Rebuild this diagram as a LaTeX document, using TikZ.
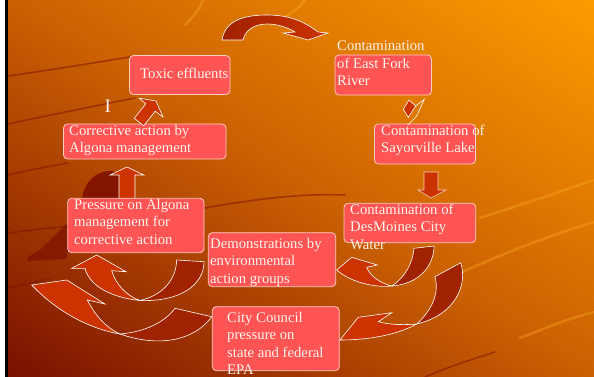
\documentclass[tikz,border=0pt]{standalone}
\usepackage{fontspec}
\setmainfont{Liberation Serif}
\definecolor{bgtr}{RGB}{252,156,0}
\definecolor{bgmid}{RGB}{202,96,2}
\definecolor{bgbl}{RGB}{122,16,0}
\definecolor{boxfill}{RGB}{255,84,84}
\definecolor{boxedge}{RGB}{255,205,195}
\definecolor{txt}{RGB}{255,243,235}
\definecolor{arrl}{RGB}{204,51,0}
\definecolor{arrd}{RGB}{160,34,0}
\definecolor{silh}{RGB}{120,10,0}
\definecolor{streakd}{RGB}{125,22,0}
\definecolor{streakl}{RGB}{255,175,40}
\begin{document}
\begin{tikzpicture}[x=1pt,y=-1pt,
  box/.style={draw=boxedge, line width=0.8pt, fill=boxfill, rounded corners=4pt, inner sep=0pt},
  lbl/.style={anchor=north west, inner sep=0pt, align=left, text=txt,
    font=\fontsize{14.7}{17.6}\selectfont, execute at begin node=\strut},
  blk/.style={fill=arrl, draw=white, line width=0.6pt},
  blkd/.style={fill=arrd, draw=white, line width=0.6pt},
  dst/.style={draw=streakd, line width=1.6pt, opacity=0.55, line cap=round},
  lst/.style={draw=streakl, line width=2.6pt, opacity=0.35, line cap=round}]
\useasboundingbox (0,0) rectangle (594,377);
% background
\fill[white] (0,0) rectangle (5,377);
\begin{scope}
\clip (8,0) rectangle (594,377);
\foreach \k in {0,...,79}{
  \pgfmathsetmacro{\a}{\k/40}
  \pgfmathsetmacro{\b}{(\k+1.4)/40}
  \pgfmathsetmacro{\uc}{(\k+0.5)/40}
  \ifnum\k<40
    \pgfmathsetmacro{\p}{\uc*100}\colorlet{sc}{bgmid!\p!bgbl}
  \else
    \pgfmathsetmacro{\p}{(\uc-1)*100}\colorlet{sc}{bgtr!\p!bgmid}
  \fi
  \fill[sc] ({8+586*(\a-2)},-377) -- ({8+586*(\a+1)},754) -- ({8+586*(\b+1)},754) -- ({8+586*(\b-2)},-377) -- cycle;
}
\end{scope}
\fill[black] (5,0) rectangle (8,377);
% streaks
\draw[dst] (8,76) .. controls (50,70) and (100,62) .. (135,56);
\draw[dst] (8,124) .. controls (50,115) and (100,105) .. (135,98);
\draw[dst] (8,175) .. controls (30,170) and (50,166) .. (68,163);
\draw[dst] (8,233) .. controls (30,230) and (50,228) .. (70,226);
\draw[dst] (8,288) .. controls (25,284) and (40,281) .. (50,279);
\draw[dst] (205,208) .. controls (250,200) and (300,193) .. (345,195);
\draw[dst] (425,377) .. controls (445,368) and (470,360) .. (495,352);
\draw[lst] (455,275) .. controls (500,255) and (550,235) .. (594,222);
\draw[lst] (520,338) .. controls (545,328) and (570,318) .. (594,312);
\draw[lst] (480,218) .. controls (520,205) and (560,192) .. (594,180);
\draw[lst] (185,25) .. controls (195,15) and (200,8) .. (203,0);
\draw[lst] (275,22) .. controls (290,15) and (300,8) .. (305,0);
% silhouette
\fill[silh, opacity=0.8] (82,199) .. controls (84,182) and (96,171) .. (110,171) .. controls (115,171) and (118,173) .. (120,175) -- (120,199) -- cycle;
\fill[silh, opacity=0.6] (68,222) -- (50,240) -- (40,250) -- (28,257) -- (27,261) -- (66,259) -- (68,250) -- cycle;
% up arrow behind boxes
\draw[blk] (119,199) -- (119,175) -- (110,175) -- (127,167) -- (144,175) -- (135,175) -- (135,199) -- cycle;
% boxes
\node[box, minimum width=100.5pt, minimum height=39pt] (toxic) at (179.75,75) {};
\node[box, minimum width=162.5pt, minimum height=35pt] (corr) at (144.75,141.5) {};
\node[box, minimum width=96.5pt, minimum height=40pt] (east) at (383.25,75) {};
\node[box, minimum width=101pt, minimum height=40pt] (sayor) at (425,144) {};
\node[box, minimum width=136.3pt, minimum height=54.4pt] (press) at (135.85,225.5) {};
\node[box, minimum width=127.4pt, minimum height=54pt] (demo) at (272,259.7) {};
\node[box, minimum width=127pt, minimum height=64pt] (city) at (275.8,338.7) {};
\node[box, minimum width=131.7pt, minimum height=39.4pt] (desm) at (409.85,223) {};
% top curved arrow
\shadedraw[left color=arrd, right color=arrl, draw=white, line width=0.6pt]
  (222,40) .. controls (225,20) and (245,15) .. (267,15) .. controls (290,15) and (305,22) .. (318,32)
  -- (328,33) -- (308,40) -- (283,33) -- (295,32) .. controls (285,26) and (275,24) .. (267,24)
  .. controls (255,24) and (245,30) .. (243,40) -- cycle;
% corrective -> toxic
\draw[blk] (134.3,118.3) -- (145.8,103.8) -- (139.3,98.2) -- (156,101) -- (163,117) -- (155.2,111.2) -- (143.7,125.7) -- cycle;
% east fork -> sayorville
\draw[blk] (403.3,109.3) -- (409,100) -- (415.7,106) -- (408.3,117.3) -- cycle;
\draw[white, line width=0.6pt] (415.7,106) -- (424.3,99.3) -- (416.7,116) -- (407.7,125);
% sayorville -> desmoines
\draw[blk, draw opacity=0.7] (424,172) -- (438,172) -- (438,190) -- (446,190) -- (431,198) -- (418,190) -- (424,190) -- cycle;
% curved arrow A (demonstrations -> pressure)
\draw[blkd] (176.7,260) -- (204,261.7) .. controls (204,285) and (180,302) .. (140,300.5) .. controls (160,296) and (176,282) .. (176.7,260) -- cycle;
\draw[blk] (140,300.5) .. controls (115,298) and (90,288) .. (85,268.3) -- (71.7,268.3) -- (96.7,255) -- (126,271.7) -- (111.7,270.7) .. controls (116,285) and (127,296) .. (140,300.5) -- cycle;
% curved arrow B (city council -> pressure)
\draw[blkd] (175,308.3) -- (211.7,316.7) .. controls (195,340) and (160,348) .. (120,334) .. controls (145,332) and (165,322) .. (175,308.3) -- cycle;
\draw[blk] (120,334) .. controls (95,330) and (60,315) .. (31.7,285) -- (66.7,280) -- (105,304) -- (87.3,300) .. controls (95,315) and (105,327) .. (120,334) -- cycle;
% curved arrow C (desmoines -> demonstrations)
\draw[blkd] (414,248.3) -- (434,246) .. controls (434,265) and (420,284) .. (391.7,286) .. controls (405,278) and (413,262) .. (414,248.3) -- cycle;
\draw[blk] (391.7,286) .. controls (375,288) and (350,282) .. (336.7,270) -- (351.7,257.3) -- (377.3,265) -- (366.7,267.3) .. controls (370,276) and (380,283) .. (391.7,286) -- cycle;
% curved arrow D (-> city council)
\draw[blkd] (435,276.7) -- (460.7,262.7) .. controls (468,285) and (455,315) .. (416.7,324) .. controls (430,312) and (440,295) .. (435,276.7) -- cycle;
\draw[blk] (416.7,324) .. controls (395,336) and (365,340) .. (340,340) -- (358.3,317.3) -- (391.7,312.7) -- (378.3,321.7) .. controls (390,325) and (405,325) .. (416.7,324) -- cycle;
% texts
\node[lbl] (ttox) at (140,65.7) {Toxic effluents};
\node[lbl] (tcorr) at (69,124.7) {Corrective action by\\Algona management};
\node[lbl] (teast) at (337,40.7) {Contamination\\of East Fork\\River};
\node[lbl] (tsay) at (381,124.7) {Contamination of\\Sayorville Lake};
\node[lbl] (tpress) at (74,198.7) {Pressure on Algona\\management for\\corrective action};
\node[lbl] (tdesm) at (350,203.7) {Contamination of\\DesMoines City\\Water};
\node[lbl] (tdemo) at (210,237.7) {Demonstrations by\\environmental\\action groups};
\node[lbl] (tcity) at (227,311.7) {City Council\\pressure on\\state and federal\\EPA};
\node[anchor=base west, inner sep=0pt, text=txt, font=\fontsize{19}{22}\selectfont] (tI) at (104.5,112.5) {I};
\end{tikzpicture}
\end{document}
